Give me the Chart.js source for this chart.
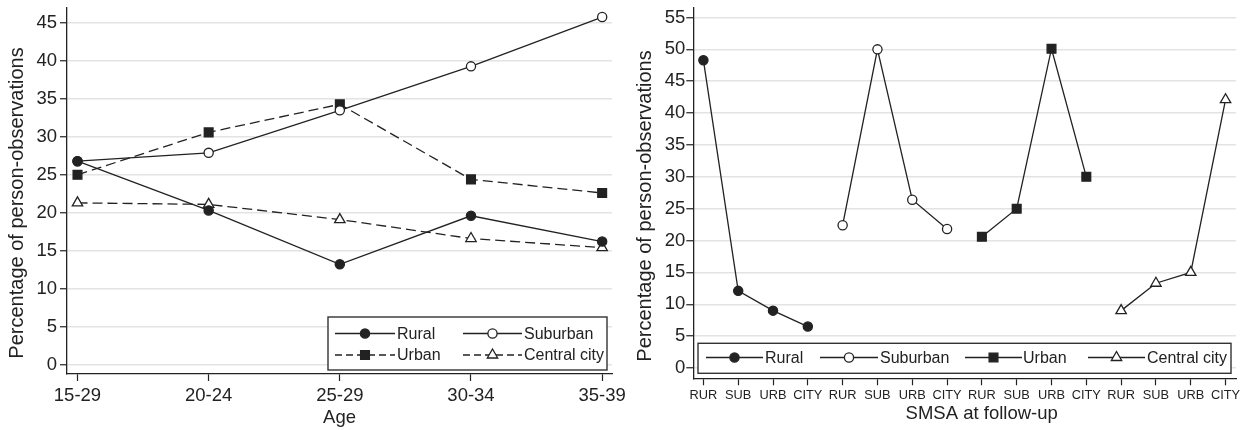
<!DOCTYPE html>
<html><head><meta charset="utf-8">
<script src="https://cdn.jsdelivr.net/npm/chart.js@4.4.1/dist/chart.umd.min.js"></script>
<style>
html,body{margin:0;padding:0;background:#fff;}
#wrap{position:relative;width:1255px;height:430px;overflow:hidden;background:#fff}
canvas{position:absolute;top:0}
#c1{left:0}
#c2{left:630px}
</style></head><body>
<div id="wrap"><canvas id="c1" width="630" height="430"></canvas><canvas id="c2" width="625" height="430"></canvas></div>
<script>
// ---------- data: left panel (by age) ----------
const ageLabels = ["15-29", "20-24", "25-29", "30-34", "35-39"];
const ageRural = [26.8, 20.3, 13.2, 19.6, 16.2];
const ageSuburban = [26.8, 27.9, 33.5, 39.3, 45.8];
const ageUrban = [25.0, 30.6, 34.3, 24.4, 22.6];
const ageCentral = [21.3, 21.1, 19.1, 16.6, 15.4];
const leftYTicks = [0, 5, 10, 15, 20, 25, 30, 35, 40, 45];

// ---------- data: right panel (SMSA at follow-up) ----------
const smsaLabels = ["RUR", "SUB", "URB", "CITY", "RUR", "SUB", "URB", "CITY",
                    "RUR", "SUB", "URB", "CITY", "RUR", "SUB", "URB", "CITY"];
const smsaRural    = [48.3, 12.1, 9.0, 6.5, null, null, null, null, null, null, null, null, null, null, null, null];
const smsaSuburban = [null, null, null, null, 22.4, 50.0, 26.4, 21.8, null, null, null, null, null, null, null, null];
const smsaUrban    = [null, null, null, null, null, null, null, null, 20.6, 25.0, 50.1, 30.0, null, null, null, null];
const smsaCentral  = [null, null, null, null, null, null, null, null, null, null, null, null, 9.0, 13.3, 15.0, 42.1];
const rightYTicks = [0, 5, 10, 15, 20, 25, 30, 35, 40, 45, 50, 55];

const seriesNames = ["Rural", "Suburban", "Urban", "Central city"];

// ---------- styles ----------
const INK = '#222';
const GRID = '#e3e3e3';
const FONT = '"Liberation Sans", Arial, Helvetica, sans-serif';
const R_CIRCLE = 4.6, R_RECT = 6.2, R_TRI = 6.0;
const PLOT_DASH = [10, 5];
const LEG_DASH = [7, 4];
const markerStyles = [
  {style: 'circle', fill: true, r: R_CIRCLE},
  {style: 'circle', fill: false, r: R_CIRCLE},
  {style: 'rect', fill: true, r: R_RECT},
  {style: 'triangle', fill: false, r: R_TRI}
];

Chart.defaults.font.family = FONT;
Chart.defaults.color = INK;

function toXY(values) {
  const out = [];
  values.forEach((v, i) => { if (v !== null) out.push({x: i, y: v}); });
  return out;
}

function makeDataset(name, values, idx, dashed) {
  const m = markerStyles[idx];
  return {
    label: name,
    data: toXY(values),
    borderColor: INK,
    borderWidth: 1.3,
    borderDash: dashed ? PLOT_DASH : [],
    fill: false,
    tension: 0,
    pointStyle: m.style,
    pointRadius: m.r,
    pointBackgroundColor: m.fill ? INK : '#fff',
    pointBorderColor: INK,
    pointBorderWidth: 1.3,
    clip: false
  };
}

function drawMarker(ctx, m, x, y) {
  ctx.save();
  ctx.setLineDash([]);
  ctx.lineWidth = 1.3;
  ctx.strokeStyle = INK;
  ctx.fillStyle = m.fill ? INK : '#fff';
  ctx.beginPath();
  if (m.style === 'circle') {
    ctx.arc(x, y, m.r, 0, Math.PI * 2);
  } else if (m.style === 'rect') {
    const s = m.r * Math.SQRT1_2;
    ctx.rect(x - s, y - s, 2 * s, 2 * s);
  } else {
    let rad = 0;
    ctx.moveTo(x + Math.sin(rad) * m.r, y - Math.cos(rad) * m.r);
    rad += Math.PI * 2 / 3;
    ctx.lineTo(x + Math.sin(rad) * m.r, y - Math.cos(rad) * m.r);
    rad += Math.PI * 2 / 3;
    ctx.lineTo(x + Math.sin(rad) * m.r, y - Math.cos(rad) * m.r);
    ctx.closePath();
  }
  ctx.fill();
  ctx.stroke();
  ctx.restore();
}

function decorPlugin(cfg) {
  return {
    id: 'decor',
    afterDraw(chart) {
      const ctx = chart.ctx;
      // legend
      const L = cfg.legend;
      ctx.save();
      ctx.fillStyle = '#fff';
      ctx.fillRect(L.box.x, L.box.y, L.box.w, L.box.h);
      ctx.strokeStyle = '#333';
      ctx.lineWidth = 1.4;
      ctx.strokeRect(L.box.x, L.box.y, L.box.w, L.box.h);
      L.items.forEach(it => {
        ctx.save();
        ctx.strokeStyle = INK;
        ctx.lineWidth = 1.3;
        ctx.setLineDash(it.dashed ? LEG_DASH : []);
        ctx.beginPath();
        ctx.moveTo(it.x1, it.y);
        ctx.lineTo(it.x2, it.y);
        ctx.stroke();
        ctx.restore();
        drawMarker(ctx, markerStyles[it.idx], (it.x1 + it.x2) / 2, it.y);
        ctx.fillStyle = INK;
        ctx.font = L.fontSize + 'px ' + FONT;
        ctx.textAlign = 'left';
        ctx.textBaseline = 'middle';
        ctx.fillText(seriesNames[it.idx], it.tx, it.y + 1);
      });
      ctx.restore();
      // axis titles
      ctx.save();
      ctx.fillStyle = INK;
      ctx.textAlign = 'center';
      ctx.textBaseline = 'middle';
      ctx.font = cfg.xTitle.size + 'px ' + FONT;
      ctx.fillText(cfg.xTitle.text, cfg.xTitle.x, cfg.xTitle.y);
      ctx.translate(cfg.yTitle.x, cfg.yTitle.y);
      ctx.rotate(-Math.PI / 2);
      ctx.font = cfg.yTitle.size + 'px ' + FONT;
      ctx.fillText(cfg.yTitle.text, 0, 0);
      ctx.restore();
    }
  };
}

function zeroPad(s) { s.paddingLeft = 0; s.paddingRight = 0; s.paddingTop = 0; s.paddingBottom = 0; }

function makeOptions(p) {
  return {
    responsive: false,
    animation: false,
    devicePixelRatio: 1,
    events: [],
    layout: {padding: p.padding},
    plugins: {legend: {display: false}, tooltip: {enabled: false}},
    scales: {
      x: {
        type: 'linear',
        min: p.xMin, max: p.xMax,
        afterBuildTicks: s => { s.ticks = p.xLabels.map((_, i) => ({value: i})); },
        afterFit: s => { s.height = p.xHeight; zeroPad(s); },
        ticks: {
          autoSkip: false, maxRotation: 0, minRotation: 0,
          padding: p.xTickPad,
          font: {size: p.xTickSize},
          color: INK,
          callback: v => p.xLabels[v]
        },
        grid: {drawOnChartArea: false, drawTicks: true, tickLength: 7, tickColor: INK, tickWidth: 1.2, color: INK},
        border: {display: true, color: INK, width: 1.3}
      },
      y: {
        type: 'linear',
        min: p.yMin, max: p.yMax,
        afterBuildTicks: s => { s.ticks = p.yTicks.map(v => ({value: v})); },
        afterFit: s => { s.width = p.yWidth; zeroPad(s); },
        ticks: {autoSkip: false, padding: p.yTickPad, font: {size: 18.5}, color: INK},
        grid: {color: GRID, lineWidth: 1.5, drawTicks: true, tickLength: 7, tickColor: INK, tickWidth: 1.2},
        border: {display: true, color: INK, width: 1.3}
      }
    }
  };
}

// ---------- left chart ----------
new Chart(document.getElementById('c1'), {
  type: 'line',
  data: {
    datasets: [
      makeDataset(seriesNames[0], ageRural, 0, false),
      makeDataset(seriesNames[1], ageSuburban, 1, false),
      makeDataset(seriesNames[2], ageUrban, 2, true),
      makeDataset(seriesNames[3], ageCentral, 3, true)
    ]
  },
  options: makeOptions({
    padding: {top: 5, right: 18, left: 0, bottom: 0},
    xMin: -0.08, xMax: 4.075, xLabels: ageLabels, xHeight: 56, xTickPad: 4, xTickSize: 18.5,
    yMin: -1.26, yMax: 47.06, yTicks: leftYTicks, yWidth: 67, yTickPad: 3
  }),
  plugins: [decorPlugin({
    legend: {
      box: {x: 328, y: 317, w: 279, h: 53},
      fontSize: 16,
      items: [
        {idx: 0, x1: 335, x2: 395, tx: 397, y: 333.5, dashed: false},
        {idx: 1, x1: 463, x2: 522, tx: 524, y: 333.5, dashed: false},
        {idx: 2, x1: 335, x2: 395, tx: 397, y: 355, dashed: true},
        {idx: 3, x1: 463, x2: 522, tx: 524, y: 355, dashed: true}
      ]
    },
    xTitle: {text: 'Age', x: 339.5, y: 418, size: 18.5},
    yTitle: {text: 'Percentage of person-observations', x: 17, y: 203, size: 20}
  })]
});

// ---------- right chart ----------
new Chart(document.getElementById('c2'), {
  type: 'line',
  data: {
    datasets: [
      makeDataset(seriesNames[0], smsaRural, 0, false),
      makeDataset(seriesNames[1], smsaSuburban, 1, false),
      makeDataset(seriesNames[2], smsaUrban, 2, false),
      makeDataset(seriesNames[3], smsaCentral, 3, false)
    ]
  },
  options: makeOptions({
    padding: {top: 7.3, right: 19, left: 0, bottom: 0},
    xMin: -0.29, xMax: 15.3, xLabels: smsaLabels, xHeight: 51.7, xTickPad: 2, xTickSize: 12.8,
    yMin: -1.62, yMax: 56.57, yTicks: rightYTicks, yWidth: 63.3, yTickPad: 1
  }),
  plugins: [decorPlugin({
    legend: {
      box: {x: 68, y: 343.3, w: 533, h: 30},
      fontSize: 16,
      items: [
        {idx: 0, x1: 76, x2: 133, tx: 135, y: 357.5, dashed: false},
        {idx: 1, x1: 190, x2: 248, tx: 250, y: 357.5, dashed: false},
        {idx: 2, x1: 335, x2: 392, tx: 393, y: 357.5, dashed: false},
        {idx: 3, x1: 458, x2: 515, tx: 517, y: 357.5, dashed: false}
      ]
    },
    xTitle: {text: 'SMSA at follow-up', x: 351.7, y: 414, size: 18.5},
    yTitle: {text: 'Percentage of person-observations', x: 15.5, y: 206, size: 20}
  })]
});
</script>
</body></html>
